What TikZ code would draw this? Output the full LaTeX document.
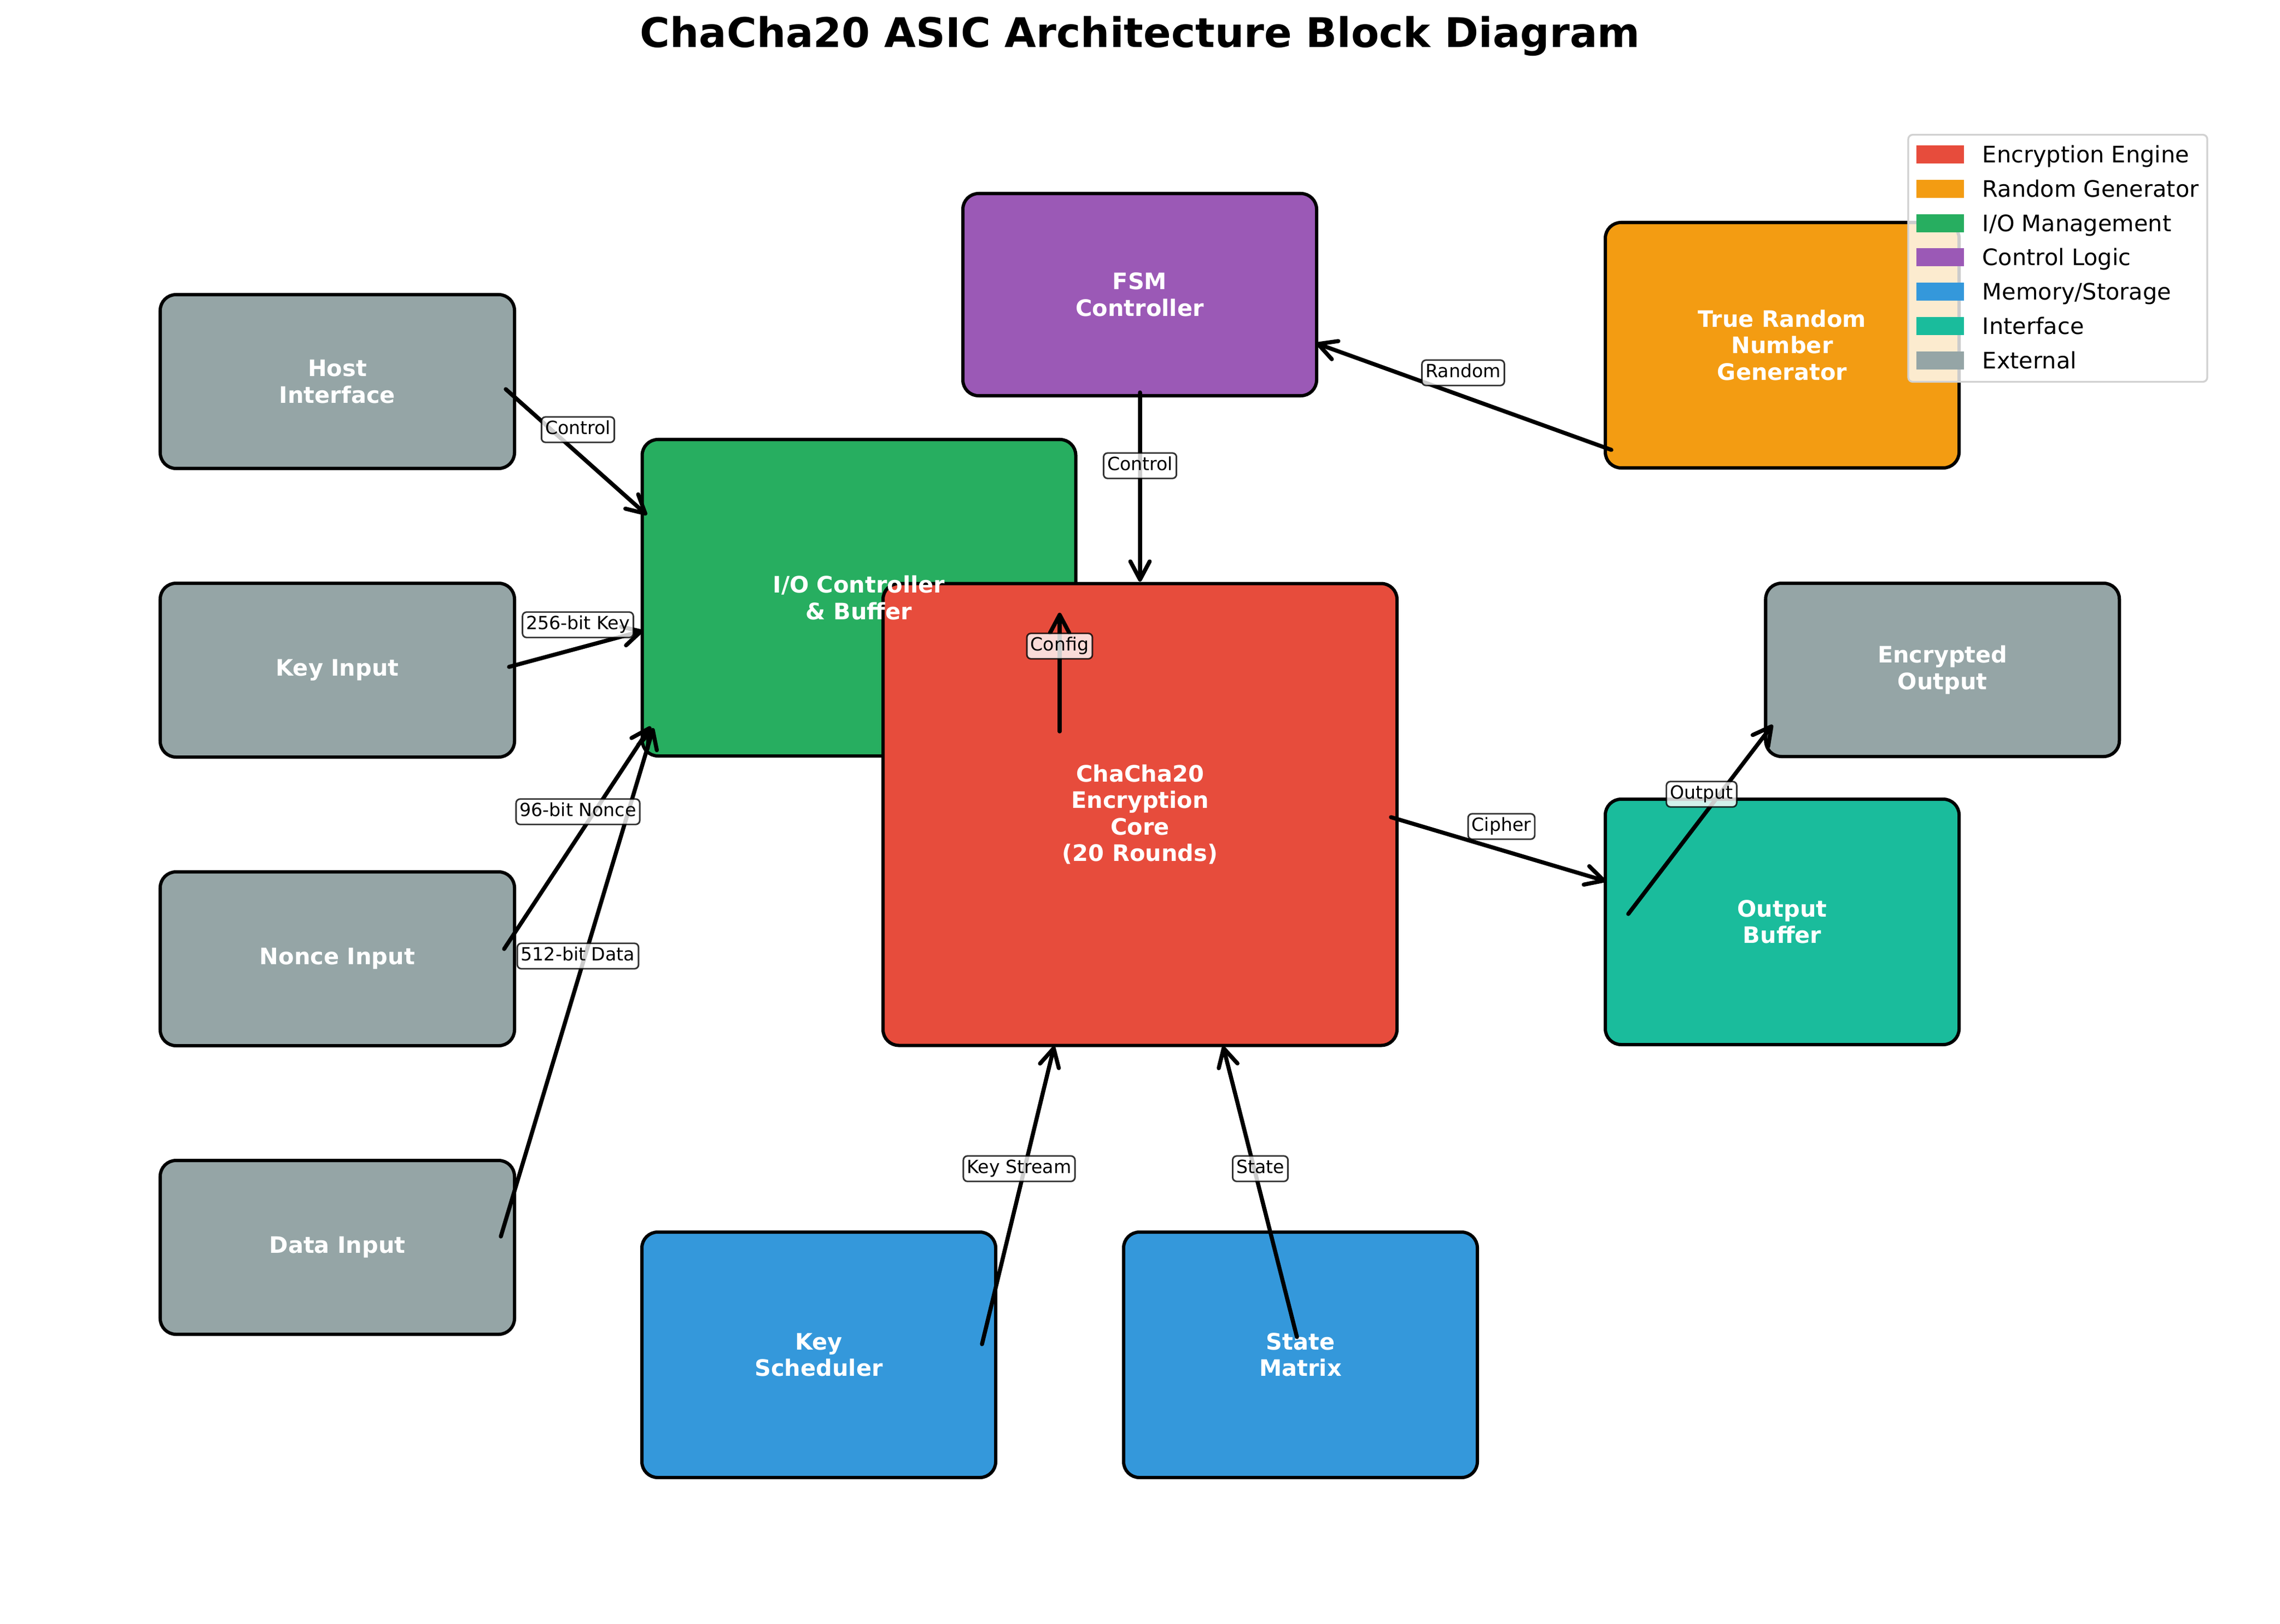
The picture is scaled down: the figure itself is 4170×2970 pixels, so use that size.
\documentclass[tikz,border=0pt]{standalone}
\usepackage{fontspec}
\setmainfont{DejaVu Sans}
\usetikzlibrary{arrows.meta,calc}
\definecolor{cred}{HTML}{E74C3C}
\definecolor{corange}{HTML}{F39C12}
\definecolor{cgreen}{HTML}{27AE60}
\definecolor{cpurple}{HTML}{9B59B6}
\definecolor{cblue}{HTML}{3498DB}
\definecolor{cteal}{HTML}{1ABC9C}
\definecolor{cgray}{HTML}{95A5A6}
\newcommand{\pxu}{0.0084667cm}
\begin{document}
\begin{tikzpicture}[x=0.0084667cm,y=-0.0084667cm,
  blk/.style 2 args={draw=black, line width=1.45pt, rounded corners=0.245cm, inner sep=0pt, outer sep=0pt,
      minimum width=#1*\pxu, minimum height=#2*\pxu},
  btxt/.style={text=white, align=center, font=\fontsize{10}{11.7}\selectfont\bfseries, inner sep=0pt},
  arr/.style={line width=1.8pt, line cap=round, line join=round, -{Straight Barb[length=8pt,width=8.5pt,round]}},
  lbl/.style={draw=black, draw opacity=0.8, fill=white, fill opacity=0.8, text opacity=1, line width=0.7pt,
      rounded corners=1.8pt, inner xsep=1.6pt, inner ysep=1.6pt, font=\fontsize{8}{9.6}\selectfont,
      text height=6.1pt, text depth=1.9pt},
  lpatch/.style={inner sep=0pt, outer sep=0pt, minimum width=87*\pxu, minimum height=33*\pxu},
  ltxt/.style={anchor=base west, inner sep=0pt, font=\fontsize{10}{12}\selectfont}
]
\useasboundingbox (0,0) rectangle (4170,2970);

% title
\node[font=\fontsize{18}{21.6}\selectfont\bfseries, anchor=base, inner sep=0pt] (title) at (2085,87) {ChaCha20 ASIC Architecture Block Diagram};

% boxes
\node[blk={648}{318}, fill=cgray] (host) at (617,698) {};
\node[blk={648}{318}, fill=cgray] (key) at (617,1226) {};
\node[blk={648}{318}, fill=cgray] (nonce) at (617,1754) {};
\node[blk={648}{318}, fill=cgray] (data) at (617,2282) {};
\node[blk={793}{579}, fill=cgreen] (io) at (1571,1093.5) {};
\node[blk={647}{370}, fill=cpurple] (fsm) at (2084.5,539) {};
\node[blk={647}{449}, fill=corange] (trng) at (3259.5,631.5) {};
\node[blk={940}{845}, fill=cred] (core) at (2085,1490) {};
\node[blk={647}{317}, fill=cgray] (enc) at (3552.7,1225.5) {};
\node[blk={647}{449}, fill=cteal] (ob) at (3259.5,1686.5) {};
\node[blk={647}{449}, fill=cblue] (ks) at (1497.5,2478.5) {};
\node[blk={647}{449}, fill=cblue] (sm) at (2378.5,2478.5) {};

% box texts
\node[btxt] (hostT) at (host) {Host\\Interface};
\node[btxt] (keyT) at (key) {Key Input};
\node[btxt] (nonceT) at (nonce) {Nonce Input};
\node[btxt] (dataT) at (data) {Data Input};
\node[btxt] (ioT) at (io) {I/O Controller\\\& Buffer};
\node[btxt] (fsmT) at (fsm) {FSM\\Controller};
\node[btxt] (trngT) at (trng) {True Random\\Number\\Generator};
\node[btxt] (coreT) at (core) {ChaCha20\\Encryption\\Core\\(20 Rounds)};
\node[btxt] (encT) at (enc) {Encrypted\\Output};
\node[btxt] (obT) at (ob) {Output\\Buffer};
\node[btxt] (ksT) at (ks) {Key\\Scheduler};
\node[btxt] (smT) at (sm) {State\\Matrix};

% connectors
\draw[arr] ($(host)+(308,14)$) -- ($(io)+(-388,-151.5)$);
\draw[arr] ($(key)+(314,-6)$) -- ($(io)+(-395,60.5)$);
\draw[arr] ($(nonce)+(305,-18)$) -- ($(io)+(-381,235.5)$);
\draw[arr] ($(data)+(299,-20)$) -- ($(io)+(-376,238.5)$);
\draw[arr] ($(fsm)+(0.5,179)$) -- ($(core)+(0,-426)$);
\draw[arr] ($(trng)+(-312.5,191.5)$) -- ($(fsm)+(322.5,89)$);
\draw[arr] ($(core)+(-147,-152)$) -- ($(io)+(367,27.5)$);
\draw[arr] ($(core)+(459,5)$) -- ($(ob)+(-322.5,-74.5)$);
\draw[arr] ($(ob)+(-281.5,-14.5)$) -- ($(enc)+(-310.7,100.5)$);
\draw[arr] ($(ks)+(298.5,-19.5)$) -- ($(core)+(-157,424)$);
\draw[arr] ($(sm)+(-6.5,-32.5)$) -- ($(core)+(152,424)$);

% connector labels
\node[lbl] (lA) at (1057,786) {Control};
\node[lbl] (lB) at (1057,1143) {256-bit Key};
\node[lbl] (lC) at (1057,1485) {96-bit Nonce};
\node[lbl] (lD) at (1057,1749) {512-bit Data};
\node[lbl] (lE) at (2085,852) {Control};
\node[lbl] (lF) at (2676,682) {Random};
\node[lbl] (lG) at (1938,1182) {Config};
\node[lbl] (lH) at (2746,1512) {Cipher};
\node[lbl] (lI) at (3112,1453) {Output};
\node[lbl] (lJ) at (1864,2138) {Key Stream};
\node[lbl] (lK) at (2305,2138) {State};

% legend
\node[draw=black!18, line width=0.8pt, fill=white, fill opacity=0.8, rounded corners=0.07cm,
      inner sep=0pt, minimum width=547*\pxu, minimum height=452*\pxu] (legend) at (3763.5,472.5) {};
\node[lpatch, fill=cred] (lp1) at (3548.5,283) {};
\node[lpatch, fill=corange] (lp2) at (3548.5,345.6) {};
\node[lpatch, fill=cgreen] (lp3) at (3548.5,408.3) {};
\node[lpatch, fill=cpurple] (lp4) at (3548.5,471) {};
\node[lpatch, fill=cblue] (lp5) at (3548.5,533.7) {};
\node[lpatch, fill=cteal] (lp6) at (3548.5,596.4) {};
\node[lpatch, fill=cgray] (lp7) at (3548.5,659.1) {};
\node[ltxt] (lt1) at (3625,298) {Encryption Engine};
\node[ltxt] (lt2) at (3625,360.6) {Random Generator};
\node[ltxt] (lt3) at (3625,423.3) {I/O Management};
\node[ltxt] (lt4) at (3625,486) {Control Logic};
\node[ltxt] (lt5) at (3625,548.7) {Memory/Storage};
\node[ltxt] (lt6) at (3625,611.4) {Interface};
\node[ltxt] (lt7) at (3625,674.1) {External};
\end{tikzpicture}
\end{document}
